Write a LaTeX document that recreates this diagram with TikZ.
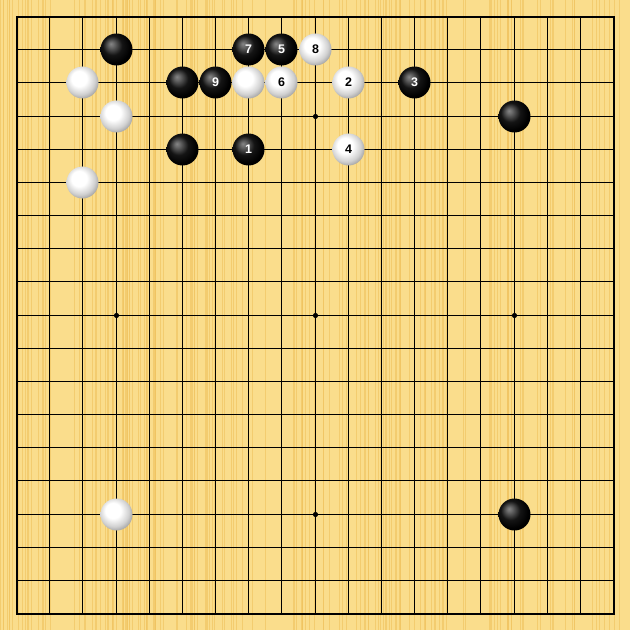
\documentclass[tikz,border=0pt]{standalone}
\usepackage{fontspec}
\newfontfamily\stonefont{Liberation Sans}
\usetikzlibrary{shadings}
\pgfdeclareradialshading{blackstone}{\pgfpoint{-9bp}{9bp}}{color(0bp)=(black!48); color(4bp)=(black!58); color(15bp)=(black!92); color(26bp)=(black); color(31bp)=(black); color(36bp)=(black!78); color(50bp)=(black!70)}
\pgfdeclareradialshading{whitestone}{\pgfpoint{-7bp}{8bp}}{color(0bp)=(white); color(12bp)=(white); color(23bp)=(black!18); color(30bp)=(black!38); color(50bp)=(black!50)}
\definecolor{woodlight}{RGB}{250,221,140}
\definecolor{woodstreak}{RGB}{240,196,96}
% grid position of line #1, snapped to the middle of a pixel
\pgfmathdeclarefunction{gp}{1}{\pgfmathparse{floor(16.5+33.167*#1)+0.5}}
\tikzset{>=latex}
\tikzset{
	stoneb/.style={circle, inner sep=0pt, minimum size=32bp, shading=blackstone, text=white, font=\stonefont\bfseries\fontsize{12.5}{13}\selectfont},
	stonew/.style={circle, inner sep=0pt, minimum size=32bp, shading=whitestone, text=black, font=\stonefont\bfseries\fontsize{12.5}{13}\selectfont},
	grid line/.style={line width=1.4bp, black},
	streak/.style={woodstreak, line width=0.9bp, opacity=0.65}
}

\begin{document}
\begin{tikzpicture}[x=1bp, y=-1bp]
		\useasboundingbox (0,0) rectangle (630,630);
		\fill[woodlight] (0,0) rectangle (630,630);
		% wood grain
		\pgfmathsetseed{11}
		\foreach \k in {1,...,160}{
			\pgfmathsetmacro\sx{rnd*630}
			\draw[streak] (\sx,0) -- (\sx,630);
		}
		% board
		\foreach \i in {1,...,17}{
			\draw[grid line] ({gp(\i)},{gp(0)}) -- ({gp(\i)},{gp(18)});
			\draw[grid line] ({gp(0)},{gp(\i)}) -- ({gp(18)},{gp(\i)});
		}
		\draw[line width=2bp] ({gp(0)+0.5},{gp(0)+0.5}) rectangle ({gp(18)+0.5},{gp(18)+0.5});
		\foreach \i in {3,9,15}
			\foreach \j in {3,9,15}
				\fill ({gp(\i)},{gp(\j)}) circle (2.6bp);
		% black stones
		\foreach \i/\j/\n in {3/1/, 5/2/, 6/2/9, 7/1/7, 8/1/5, 12/2/3, 15/3/, 5/4/, 7/4/1, 15/15/}
			\node[stoneb] (b\i-\j) at ({gp(\i)},{gp(\j)}) {\n};
		% white stones
		\foreach \i/\j/\n in {2/2/, 3/3/, 2/5/, 7/2/, 8/2/6, 9/1/8, 10/2/2, 10/4/4, 3/15/}
			\node[stonew] (w\i-\j) at ({gp(\i)},{gp(\j)}) {\n};
	\end{tikzpicture}
\end{document}
